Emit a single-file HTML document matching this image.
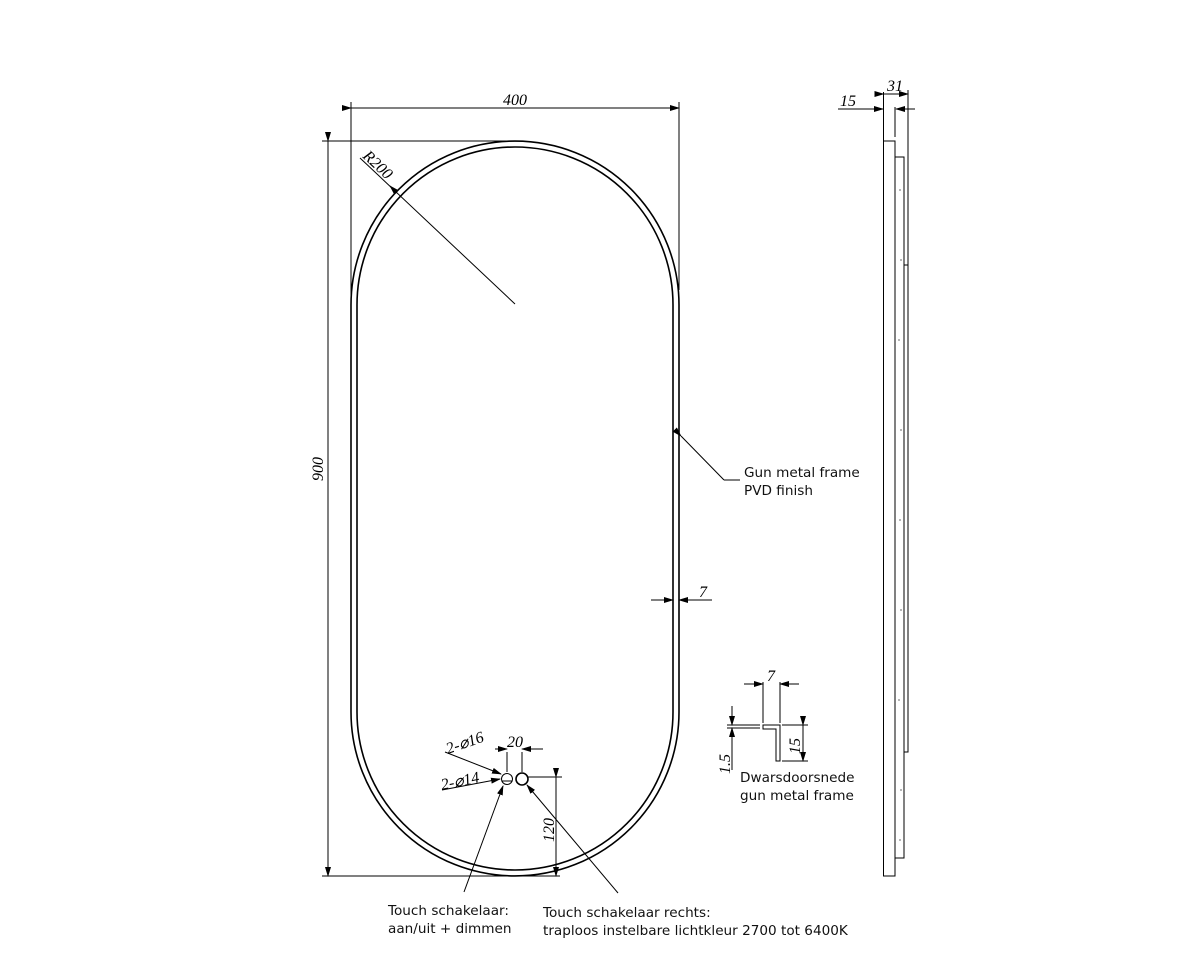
<!DOCTYPE html>
<html><head><meta charset="utf-8"><style>
html,body{margin:0;padding:0;background:#fff}
svg{display:block}
.d{font-family:"Liberation Serif",serif;font-style:italic;font-size:16px;fill:#000}
.l{font-family:"DejaVu Sans","Liberation Sans",sans-serif;font-size:13.6px;fill:#111}
</style></head><body>
<svg width="1198" height="977" viewBox="0 0 1198 977" xmlns="http://www.w3.org/2000/svg">
<defs><marker id="a" markerWidth="10" markerHeight="6" refX="9" refY="3" orient="auto" markerUnits="userSpaceOnUse"><path d="M0,0 L10,3 L0,6z" fill="#000"/></marker></defs>
<g fill="none" stroke="#000" stroke-width="1.3">
<path d="M351,305 A164,164 0 0 1 679,305 L679,712 A164,164 0 0 1 351,712 Z" stroke-width="1.6"/>
<path d="M357,305 A158,158 0 0 1 673,305 L673,712 A158,158 0 0 1 357,712 Z" stroke-width="1.6"/>
</g>
<g fill="none" stroke="#000" stroke-width="1">
<line x1="351" y1="102" x2="351" y2="300"/>
<line x1="679" y1="102" x2="679" y2="290"/>
<line x1="351" y1="108" x2="679" y2="108" marker-start="url(#a)" marker-end="url(#a)"/>
<line x1="322" y1="141" x2="515" y2="141"/>
<line x1="322" y1="876" x2="560" y2="876"/>
<line x1="328" y1="141" x2="328" y2="876" marker-start="url(#a)" marker-end="url(#a)"/>
<line x1="360" y1="158" x2="515" y2="304"/>
<line x1="397" y1="193" x2="390" y2="186" marker-end="url(#a)"/>
<line x1="681" y1="436" x2="724" y2="480" marker-start="url(#a)"/>
<line x1="724" y1="480" x2="740" y2="480"/>
<line x1="651" y1="600" x2="673" y2="600" marker-end="url(#a)"/>
<line x1="712" y1="600" x2="679" y2="600" marker-end="url(#a)"/>
<circle cx="507" cy="779" r="5.5"/>
<circle cx="522" cy="779" r="6" stroke-width="1.6"/>
<line x1="502" y1="781" x2="512" y2="781"/>
<line x1="507" y1="752" x2="507" y2="772"/>
<line x1="522" y1="752" x2="522" y2="772"/>
<line x1="495" y1="749" x2="507" y2="749" marker-end="url(#a)"/>
<line x1="543" y1="749" x2="522" y2="749" marker-end="url(#a)"/>
<line x1="445" y1="752" x2="501" y2="774" marker-end="url(#a)"/>
<line x1="442" y1="790" x2="500" y2="779" marker-end="url(#a)"/>
<line x1="528" y1="777" x2="562" y2="777"/>
<line x1="556" y1="777" x2="556" y2="876" marker-start="url(#a)" marker-end="url(#a)"/>
<line x1="464" y1="892" x2="503" y2="786" marker-end="url(#a)"/>
<line x1="618" y1="893" x2="527" y2="785" marker-end="url(#a)"/>
<rect x="883.5" y="141" width="11.5" height="735"/>
<rect x="895" y="157" width="9" height="701"/>
<rect x="904" y="265" width="4" height="487"/>
<line x1="883.5" y1="92" x2="883.5" y2="141"/>
<line x1="908" y1="90" x2="908" y2="265"/>
<line x1="895" y1="107" x2="895" y2="137"/>
<line x1="838" y1="109" x2="883" y2="109" marker-end="url(#a)"/>
<line x1="915" y1="109" x2="896" y2="109" marker-end="url(#a)"/>
<line x1="883.5" y1="94" x2="908" y2="94" marker-start="url(#a)" marker-end="url(#a)"/>
<line x1="763" y1="682" x2="763" y2="723"/>
<line x1="780" y1="682" x2="780" y2="723"/>
<line x1="744" y1="684" x2="763" y2="684" marker-end="url(#a)"/>
<line x1="799" y1="684" x2="780" y2="684" marker-end="url(#a)"/>
<line x1="727" y1="725" x2="760" y2="725"/>
<line x1="727" y1="728" x2="760" y2="728"/>
<path d="M763,725 L780,725 L780,761 L776,761 L776,729 L763,729 Z"/>
<line x1="782" y1="725" x2="808" y2="725"/>
<line x1="782" y1="761" x2="808" y2="761"/>
<line x1="803" y1="725" x2="803" y2="761" marker-start="url(#a)" marker-end="url(#a)"/>
<line x1="732" y1="706" x2="732" y2="725" marker-end="url(#a)"/>
<line x1="732" y1="770" x2="732" y2="728" marker-end="url(#a)"/>
</g>
<g fill="#000">
<circle cx="900" cy="190" r=".6"/><circle cx="901" cy="260" r=".6"/><circle cx="899" cy="340" r=".6"/><circle cx="901" cy="430" r=".6"/><circle cx="900" cy="520" r=".6"/><circle cx="901" cy="610" r=".6"/><circle cx="899" cy="700" r=".6"/><circle cx="901" cy="790" r=".6"/><circle cx="900" cy="840" r=".6"/>
</g>
<text class="d" x="503" y="105">400</text>
<text class="d" transform="translate(323,481) rotate(-90)">900</text>
<text class="d" transform="translate(362,157) rotate(43)">R200</text>
<text class="d" x="699" y="597">7</text>
<text class="d" x="507" y="747">20</text>
<text class="d" transform="translate(448,754) rotate(-19)">2-⌀16</text>
<text class="d" transform="translate(442,790) rotate(-12)">2-⌀14</text>
<text class="d" transform="translate(554,842) rotate(-90)">120</text>
<text class="d" x="840" y="106">15</text>
<text class="d" x="887" y="91">31</text>
<text class="d" x="767" y="681">7</text>
<text class="d" transform="translate(800,754) rotate(-90)">15</text>
<text class="d" transform="translate(730,774) rotate(-90)">1.5</text>
<text class="l" x="744" y="477">Gun metal frame</text>
<text class="l" x="744" y="495">PVD finish</text>
<text class="l" x="740" y="782">Dwarsdoorsnede</text>
<text class="l" x="740" y="800">gun metal frame</text>
<text class="l" x="388" y="915">Touch schakelaar:</text>
<text class="l" x="388" y="933">aan/uit + dimmen</text>
<text class="l" x="543" y="917">Touch schakelaar rechts:</text>
<text class="l" x="543" y="935">traploos instelbare lichtkleur 2700 tot 6400K</text>
</svg>
</body></html>
